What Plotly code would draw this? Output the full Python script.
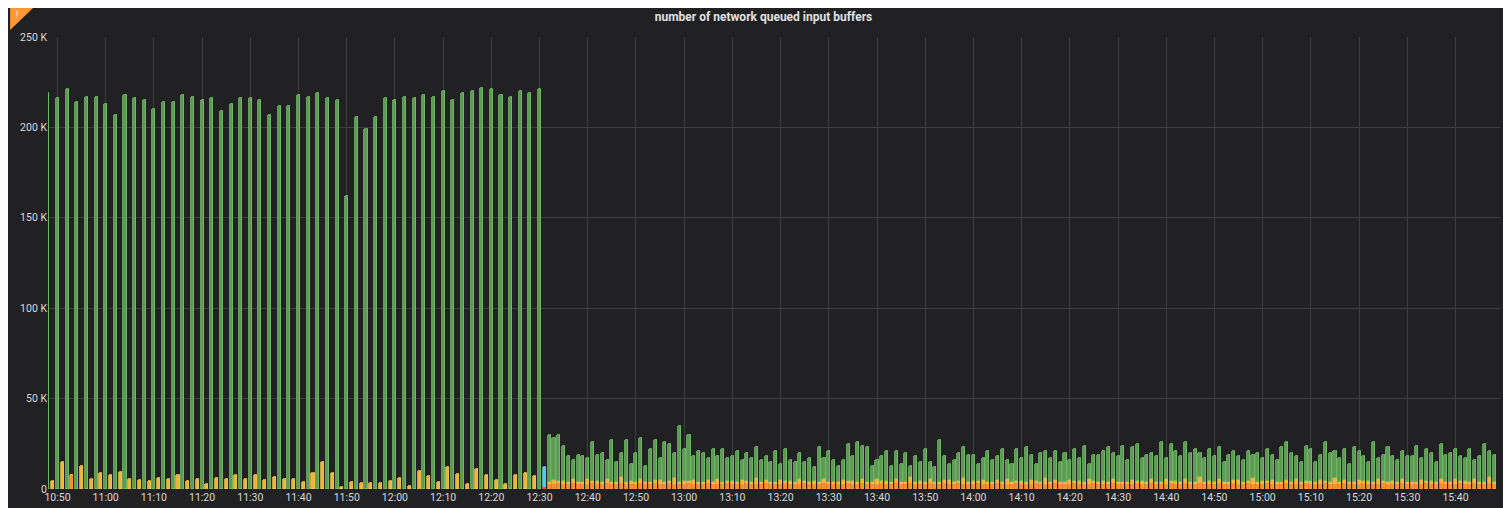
import plotly.graph_objects as go
import pandas as pd

# Phase 1 (10:48-12:30): tall green bars every 2 min, yellow bars between (K)
GREEN_PRE = [219,216,221,214,217,217,213,207,218,216,215,210,214,214,218,217,215,216,209,213,
             216,216,215,207,212,212,218,217,219,216,215,162,206,199,206,216,215,217,216,218,
             217,220,215,219,220,222,221,218,217,220,219,221]
YELLOW_PRE = [4.6,15,0,12.5,5.5,9,8,9.5,5.5,5,4.5,6,5.5,7.5,4.6,5.5,3,6,5.5,8,
              5.5,7.5,5,6.5,5.5,5.5,4,9,15,9,1.3,4,3.5,3.5,3.5,4.6,6,1.5,10,7,
              4,12,8.5,2.8,11,8,5,3,8,9,7]
ORANGE_PRE_ONE = 8  # single orange bar at 10:53

# Phase 2 (12:32-15:48): stacked per-minute bars (K)
GREEN_POST = [30,28,30,24,18,16,19,18,17,26,19,20,16,27,15,20,27,14,20,28,13,22,27,17,26,25,20,35,22,30,
              18,21,20,17,22,18,22,17,18,21,16,20,17,23,16,18,15,21,14,22,16,15,20,15,17,12,23,17,21,16,
              13,16,25,18,26,24,23,13,16,18,21,13,21,14,20,13,18,15,22,15,12,27,18,14,16,20,23,19,19,14,
              17,21,16,18,22,16,14,22,17,23,19,14,20,21,17,21,15,20,16,22,17,24,14,19,19,21,23,20,18,24,
              16,23,25,17,19,20,18,26,17,25,21,18,26,20,22,20,17,22,18,23,15,19,21,18,16,21,19,20,17,22,
              19,16,23,26,20,18,15,24,22,15,19,26,20,21,17,22,14,23,21,18,15,26,17,19,23,18,16,21,18,18,
              24,17,22,20,15,25,19,20,22,18,17,22,16,18,25,21,19]
ORANGE_POST = [3,3,3.5,3,3,3.5,3,3,3,3.5,3,3,3.5,3,3,3.5,3,3,3,3.5,3,3,3.5,3,3,3.5,3,3,3,3.5,
               3,3,3,3.5,3,3,3,3.5,3,3,3,3.5,3,3,3,3.5,3,3,3,3.5,3,3,3,3.5,3,3,3,3.5,3,3]
YELLOW_POST = [1,2,1,1.5,1,2,1,1,2.5,1,1.5,1,2,1,1,3,1,1.5,1,2,1,1,1.5,2,1,1,3,1,1.5,1,
               2,1,1,1.5,1,2.5,1,1,1.5,1,2,1,1,3,1,1.5,1,1,2,1,1.5,1,2.5,1,1,1.5,1,2,1,1]
CYAN_VAL = 12
RED_VAL = 1

t0 = pd.Timestamp("2020-01-01 10:48")
x_green_pre = [t0 + pd.Timedelta(minutes=2 * i) for i in range(len(GREEN_PRE))]
x_yellow_pre = [t0 + pd.Timedelta(minutes=2 * i + 1) for i in range(len(YELLOW_PRE))]
t1 = pd.Timestamp("2020-01-01 12:32")
x_post = [t1 + pd.Timedelta(minutes=i) for i in range(len(GREEN_POST))]
orange_post = [ORANGE_POST[i % len(ORANGE_POST)] for i in range(len(GREEN_POST))]
yellow_post = [YELLOW_POST[i % len(YELLOW_POST)] for i in range(len(GREEN_POST))]
green_post = [g - o - y for g, o, y in zip(GREEN_POST, orange_post, yellow_post)]
x_cyan = pd.Timestamp("2020-01-01 12:31")

W = 38000
K = 1000
def bar(x, y, fill, line, name):
    return go.Bar(x=x, y=[v * K for v in y], name=name, width=W,
                  marker=dict(color=fill, line=dict(color=line, width=0.8)),
                  hoverinfo="skip", showlegend=False)

fig = go.Figure()
fig.add_trace(bar([x_cyan], [RED_VAL], "#f2495c", "#f2495c", "red"))
fig.add_trace(bar([t0 + pd.Timedelta(minutes=5)] + x_post, [ORANGE_PRE_ONE] + orange_post,
                  "#f98b35", "#ff9830", "orange"))
fig.add_trace(bar([x_cyan], [CYAN_VAL - RED_VAL], "#5ac8e6", "#5ac8e6", "cyan"))
fig.add_trace(bar(x_yellow_pre + x_post, YELLOW_PRE + yellow_post, "#eab53c", "#f2c14a", "yellow"))
fig.add_trace(bar(x_green_pre + x_post, GREEN_PRE + green_post, "#5f9a55", "#73bf69", "green"))

fig.update_layout(
    barmode="stack", bargap=0,
    width=1511, height=508,
    paper_bgcolor="#212124", plot_bgcolor="#212124",
    margin=dict(l=38, r=19, t=29, b=19),
    title=dict(text="<b>number of network queued input buffers</b>", x=0.5, y=0.982,
               yanchor="middle", font=dict(family="Roboto", size=12, color="#e0e0e0")),
    font=dict(family="Roboto", size=10.5, color="#d8d9da"),
    xaxis=dict(type="date", range=[pd.Timestamp("2020-01-01 10:48:02"), pd.Timestamp("2020-01-01 15:49:14")],
               tickvals=[pd.Timestamp("2020-01-01 10:50") + pd.Timedelta(minutes=10 * i) for i in range(30)],
               tickformat="%H:%M",
               showgrid=True, gridcolor="#3d3d40", gridwidth=1, zeroline=False,
               ticks="", showline=False),
    yaxis=dict(range=[0, 250000], tickvals=[0, 50000, 100000, 150000, 200000, 250000],
               ticktext=["0", "50 K", "100 K", "150 K", "200 K", "250 K"],
               showgrid=True, gridcolor="#3d3d40", zeroline=False, ticks="", ticklen=0),
    shapes=[
        dict(type="path", xref="paper", yref="paper",
             path="M -0.0261 1.064 L -0.0103 1.064 L -0.0261 1.0155 Z",
             fillcolor="#ff9830", line_width=0),
    ],
    annotations=[dict(text="!", xref="paper", yref="paper", x=-0.0235, y=1.064,
                      yanchor="top", showarrow=False, font=dict(color="white", size=9))],
)
fig.write_html("out.html")
